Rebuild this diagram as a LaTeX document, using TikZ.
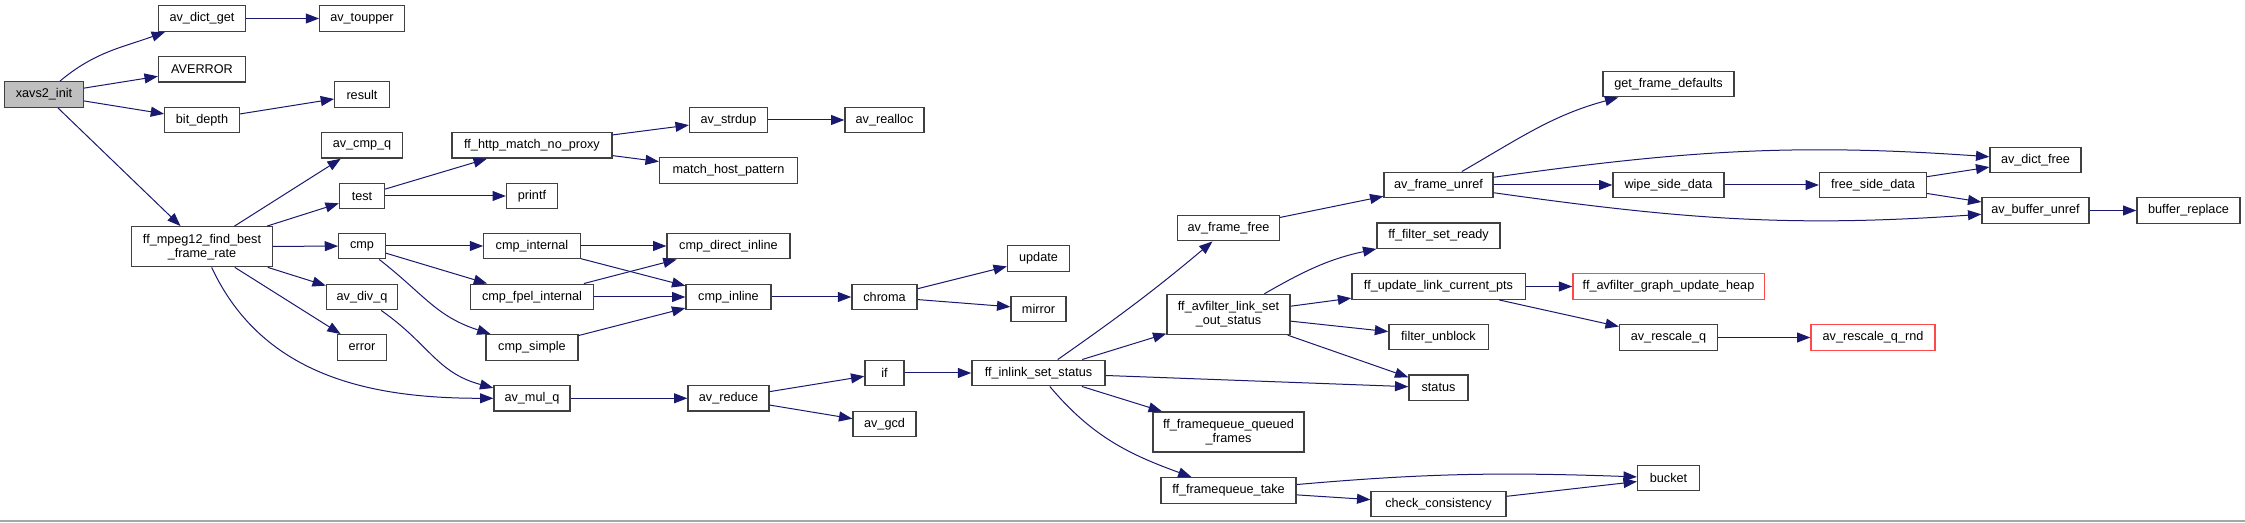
\documentclass[tikz,border=0pt]{standalone}
\usepackage{fontspec}
\setmainfont{Liberation Sans}
\usetikzlibrary{arrows.meta}
\definecolor{callblue}{HTML}{191970}
\definecolor{boxgray}{HTML}{404040}
\definecolor{rootgray}{HTML}{BFBFBF}
\definecolor{extred}{HTML}{FF4848}
\tikzset{
  fn/.style={draw=boxgray, line width=1pt, fill=white, inner sep=0pt,
    minimum height=19.2pt, font=\fontsize{9.5}{10.5}\selectfont},
  bw/.style={minimum width=#1*0.75pt},
  twoline/.style={minimum height=30pt, align=center},
  ext/.style={draw=extred},
  call/.style={callblue, line width=0.75pt, -{Triangle[length=10pt,width=7.5pt]}}
}

\begin{document}
\begin{tikzpicture}[x=0.75pt,y=0.75pt]
  \useasboundingbox (0,0) rectangle (2245,-523);
  \fill[white] (0,0) rectangle (2245,-523);
  \draw[gray!70,line width=1.5pt] (0,-521.5) -- (2245,-521.5);

  % Caller and first callees
  \node[fn,bw=79,fill=rootgray] (xavs) at (44,-94.5) {xavs2\_init};
  \node[fn,bw=87] (dictget) at (202,-18.5) {av\_dict\_get};
  \node[fn,bw=87] (averror) at (202,-69.3) {AVERROR};
  \node[fn,bw=74.5] (bitdepth) at (202,-120) {bit\_depth};
  \node[fn,bw=140.5,twoline] (mpegrate) at (202,-246.7) {ff\_mpeg12\_find\_best\\\_frame\_rate};

  \node[fn,bw=84.5] (toupper) at (362,-18.5) {av\_toupper};
  \node[fn,bw=54.5] (result) at (362,-94.5) {result};
  \node[fn,bw=80.5] (cmpq) at (362,-145.3) {av\_cmp\_q};
  \node[fn,bw=45] (test) at (362,-196) {test};
  \node[fn,bw=46.5] (cmp) at (362,-246) {cmp};
  \node[fn,bw=71] (divq) at (362,-297) {av\_div\_q};
  \node[fn,bw=49] (error) at (362,-347.5) {error};

  \node[fn,bw=160] (httpproxy) at (532,-145.3) {ff\_http\_match\_no\_proxy};
  \node[fn,bw=51] (printf) at (532,-196) {printf};
  \node[fn,bw=96.5] (cmpint) at (532,-246) {cmp\_internal};
  \node[fn,bw=122.5] (fpelint) at (532,-297) {cmp\_fpel\_internal};
  \node[fn,bw=92] (cmpsimple) at (532,-347.5) {cmp\_simple};
  \node[fn,bw=76] (mulq) at (532,-398.3) {av\_mul\_q};

  \node[fn,bw=78] (strdup) at (728.5,-120) {av\_strdup};
  \node[fn,bw=138] (hostpat) at (728.5,-170.5) {match\_host\_pattern};
  \node[fn,bw=123] (directinl) at (728.5,-246) {cmp\_direct\_inline};
  \node[fn,bw=85] (cmpinl) at (728.5,-297) {cmp\_inline};
  \node[fn,bw=81] (reduce) at (728.5,-398.3) {av\_reduce};

  \node[fn,bw=79] (realloc) at (884.5,-120) {av\_realloc};
  \node[fn,bw=65.3] (chroma) at (884.5,-297) {chroma};
  \node[fn,bw=39] (ifnode) at (884.5,-373) {if};
  \node[fn,bw=63] (gcd) at (884.5,-424) {av\_gcd};

  \node[fn,bw=62] (update) at (1038.5,-258.5) {update};
  \node[fn,bw=55] (mirror) at (1038.5,-309) {mirror};
  \node[fn,bw=133.3] (inlinkstat) at (1038.5,-373) {ff\_inlink\_set\_status};

  % Filter link side
  \node[fn,bw=102] (framefree) at (1228.5,-228) {av\_frame\_free};
  \node[fn,bw=123,twoline] (linkstat) at (1228.5,-314.5) {ff\_avfilter\_link\_set\\\_out\_status};
  \node[fn,bw=151,twoline] (queued) at (1228.5,-432) {ff\_framequeue\_queued\\\_frames};
  \node[fn,bw=135.3] (fqtake) at (1228.5,-490.5) {ff\_framequeue\_take};

  \node[fn,bw=109] (frameunref) at (1438.5,-185) {av\_frame\_unref};
  \node[fn,bw=123] (setready) at (1438.5,-235.7) {ff\_filter\_set\_ready};
  \node[fn,bw=173.3] (updatepts) at (1438.5,-286.5) {ff\_update\_link\_current\_pts};
  \node[fn,bw=99.3] (unblock) at (1438.5,-337) {filter\_unblock};
  \node[fn,bw=59] (status) at (1438.5,-387.8) {status};
  \node[fn,bw=135] (checkcons) at (1438.5,-504) {check\_consistency};

  \node[fn,bw=131] (framedefaults) at (1668.5,-84) {get\_frame\_defaults};
  \node[fn,bw=111] (wipeside) at (1668.5,-185) {wipe\_side\_data};
  \node[fn,ext,bw=191.3] (updateheap) at (1668.5,-286.5) {ff\_avfilter\_graph\_update\_heap};
  \node[fn,bw=98] (rescaleq) at (1668.5,-337.5) {av\_rescale\_q};
  \node[fn,bw=62] (bucket) at (1668.5,-478) {bucket};

  \node[fn,bw=107] (freeside) at (1873,-185) {free\_side\_data};
  \node[fn,ext,bw=124] (rescalernd) at (1873,-337.5) {av\_rescale\_q\_rnd};

  \node[fn,bw=91] (dictfree) at (2035.5,-160) {av\_dict\_free};
  \node[fn,bw=107] (bufunref) at (2035.5,-210.5) {av\_buffer\_unref};
  \node[fn,bw=103] (bufreplace) at (2188.5,-210.5) {buffer\_replace};

  % Calls
  \draw[call] (xavs) to[out=40,in=200] (dictget);
  \draw[call] (xavs) -- (averror);
  \draw[call] (xavs) -- (bitdepth);
  \draw[call] (xavs) -- (mpegrate);
  \draw[call] (dictget) -- (toupper);
  \draw[call] (bitdepth) -- (result);

  \draw[call] (mpegrate) -- (cmpq);
  \draw[call] (mpegrate) -- (test);
  \draw[call] (mpegrate) -- (cmp);
  \draw[call] (mpegrate) -- (divq);
  \draw[call] (mpegrate) -- (error);
  \draw[call] (mpegrate) to[out=-65,in=180] (mulq);

  \draw[call] (test) -- (httpproxy);
  \draw[call] (test) -- (printf);
  \draw[call] (httpproxy) -- (strdup);
  \draw[call] (httpproxy) -- (hostpat);
  \draw[call] (strdup) -- (realloc);

  \draw[call] (cmp) -- (cmpint);
  \draw[call] (cmp) -- (fpelint);
  \draw[call] (cmp) to[out=-38,in=162,looseness=1.1] (cmpsimple);
  \draw[call] (cmpint) -- (directinl);
  \draw[call] (cmpint) -- (cmpinl);
  \draw[call] (fpelint) -- (directinl);
  \draw[call] (fpelint) -- (cmpinl);
  \draw[call] (cmpsimple) -- (cmpinl);
  \draw[call] (cmpinl) -- (chroma);
  \draw[call] (chroma) -- (update);
  \draw[call] (chroma) -- (mirror);

  \draw[call] (divq) to[out=-35,in=165,looseness=1.1] (mulq);
  \draw[call] (mulq) -- (reduce);
  \draw[call] (reduce) -- (ifnode);
  \draw[call] (reduce) -- (gcd);
  \draw[call] (ifnode) -- (inlinkstat);

  \draw[call] (inlinkstat) to[out=35,in=220] (framefree);
  \draw[call] (inlinkstat) -- (linkstat);
  \draw[call] (inlinkstat) -- (status);
  \draw[call] (inlinkstat) -- (queued);
  \draw[call] (inlinkstat) to[out=-50,in=160] (fqtake);

  \draw[call] (framefree) -- (frameunref);
  \draw[call] (frameunref) to[out=30,in=195] (framedefaults);
  \draw[call] (frameunref) to[out=8,in=176] (dictfree);
  \draw[call] (frameunref) -- (wipeside);
  \draw[call] (frameunref) to[out=-8,in=184] (bufunref);
  \draw[call] (wipeside) -- (freeside);
  \draw[call] (freeside) -- (dictfree);
  \draw[call] (freeside) -- (bufunref);
  \draw[call] (bufunref) -- (bufreplace);

  \draw[call] (linkstat) to[out=30,in=192] (setready);
  \draw[call] (linkstat) -- (updatepts);
  \draw[call] (linkstat) -- (unblock);
  \draw[call] (linkstat) -- (status);
  \draw[call] (updatepts) -- (updateheap);
  \draw[call] (updatepts) -- (rescaleq);
  \draw[call] (rescaleq) -- (rescalernd);

  \draw[call] (fqtake) to[out=5,in=178] (bucket);
  \draw[call] (fqtake) -- (checkcons);
  \draw[call] (checkcons) -- (bucket);
\end{tikzpicture}
\end{document}
